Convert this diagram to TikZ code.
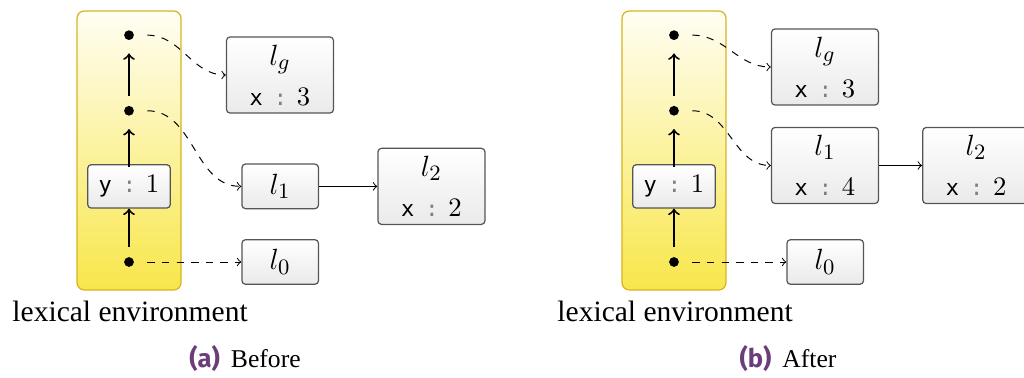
\documentclass[tikz,border=0pt]{standalone}
\usepackage[no-math]{fontspec}
\setmainfont{Liberation Serif}
\setmonofont{DejaVu Sans Mono}
\newfontfamily\capsans{Fira Sans}
\usetikzlibrary{positioning}

\definecolor{envtop}{HTML}{FFFEF4}
\definecolor{envbot}{HTML}{F8E64A}
\definecolor{envline}{HTML}{D7B41E}
\definecolor{boxbot}{HTML}{EAEAEA}
\definecolor{boxline}{HTML}{555555}
\definecolor{capcol}{HTML}{6B3E7A}

\newcommand\locname[1]{{\fontsize{12.5}{14}\selectfont$#1$}}
\newcommand\envbind[2]{{\fontsize{9}{10}\ttfamily #1}\hspace{4.5pt}%
  {\fontsize{9}{10}\ttfamily\textcolor{gray}{:}}\hspace{4pt}{\fontsize{11}{12}\selectfont$#2$}}

\tikzset{
  heap/.style={draw=boxline, line width=0.5pt, rounded corners=1.5pt,
    top color=white, bottom color=boxbot, inner sep=2pt, align=center,
    minimum width=31.4pt, minimum height=18.3pt},
  heapbig/.style={heap, minimum width=43.9pt, minimum height=31.2pt},
  envcol/.style={draw=envline, line width=0.5pt, rounded corners=3pt,
    top color=envtop, bottom color=envbot},
  envdot/.style={circle, fill, inner sep=0pt, minimum size=4pt, outer sep=5.5pt},
  link/.style={->, thick, shorten <=-1.3pt},
  ref/.style={->, dashed},
  envtext/.style={anchor=base west, inner sep=0pt, font=\fontsize{12.1}{14}\selectfont}
}

\begin{document}
\begin{tikzpicture}[%
x=0.41pt, y=0.41pt,
node distance=31pt,
on grid
]
\useasboundingbox (0,0) rectangle (1024,378);

% (a) before
\draw[envcol] (77,88) rectangle (181,367);
\node[envdot] (a0) at (129,116) {};
\node[heap, minimum width=33.9pt, minimum height=17.8pt] (ay) [above=of a0] {\envbind{y}{1}};
\node[envdot] (a1) [above=of ay] {};
\node[envdot] (a2) [above=of a1] {};

\node[heap] (al0) [right=62pt of a0] {\locname{l_0}};
\node[heap] (al1) [right=62pt of ay] {\locname{l_1}};
\node[heapbig] (al2) [right=62pt of al1] {\locname{l_2}\\[4.5pt] \envbind{x}{2}};
\node[heapbig] (alg) at (280,303) {\locname{l_g}\\[4.5pt] \envbind{x}{3}};

\draw[link] (a0) -- (ay);
\draw[link] (ay) -- (a1);
\draw[link] (a1) -- (a2);
\draw[ref] (a2) to[out=0,in=180] (alg);
\draw[ref] (a1) to[out=0,in=180] (al1);
\draw[ref] (a0) -- (al0);
\draw[->] (al1) -- (al2);

\node[envtext] (alex) at (12,56) {lexical environment};
\node[anchor=base, font=\fontsize{10.5}{12}\selectfont] (acap) at (245,10)
  {{\capsans\bfseries\textcolor{capcol}{(a)}}\hspace{4.5pt}Before};

% (b) after
\begin{scope}[xshift=223.45pt]
\draw[envcol] (77,88) rectangle (181,367);
\node[envdot] (b0) at (129,116) {};
\node[heap, minimum width=33.9pt, minimum height=17.8pt] (by) [above=of b0] {\envbind{y}{1}};
\node[envdot] (b1) [above=of by] {};
\node[envdot] (b2) [above=of b1] {};

\node[heap] (bl0) [right=62pt of b0] {\locname{l_0}};
\node[heapbig] (bl1) at (280,212.5) {\locname{l_1}\\[4.5pt] \envbind{x}{4}};
\node[heapbig] (bl2) [right=62pt of bl1] {\locname{l_2}\\[4.5pt] \envbind{x}{2}};
\node[heapbig] (blg) at (280,311) {\locname{l_g}\\[4.5pt] \envbind{x}{3}};

\draw[link] (b0) -- (by);
\draw[link] (by) -- (b1);
\draw[link] (b1) -- (b2);
\draw[ref] (b2) to[out=0,in=180] (blg);
\draw[ref] (b1) to[out=0,in=180] (bl1);
\draw[ref] (b0) -- (bl0);
\draw[->] (bl1) -- (bl2);

\node[envtext] (blex) at (12,56) {lexical environment};
\node[anchor=base, font=\fontsize{10.5}{12}\selectfont] (bcap) at (243,10)
  {{\capsans\bfseries\textcolor{capcol}{(b)}}\hspace{4.5pt}After};
\end{scope}

\end{tikzpicture}
\end{document}
